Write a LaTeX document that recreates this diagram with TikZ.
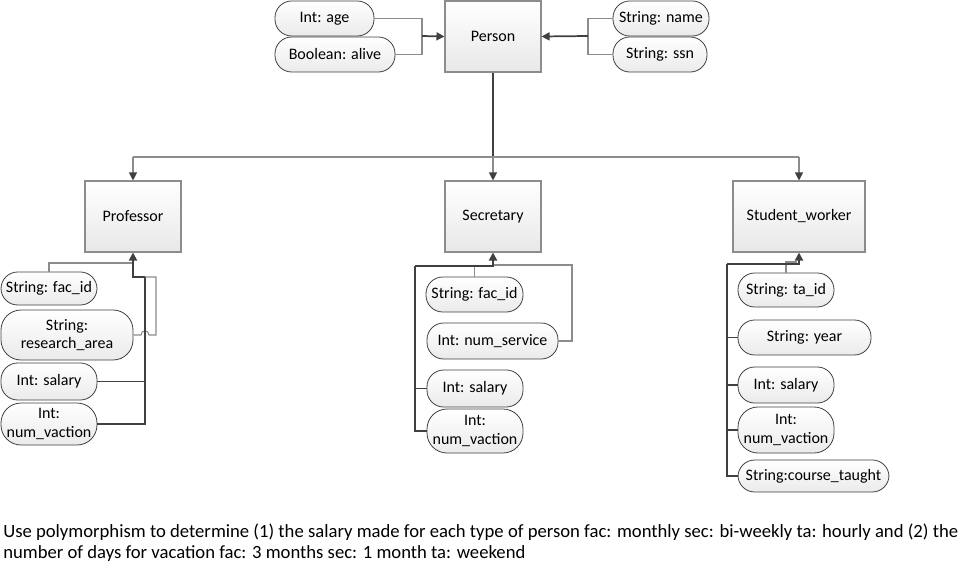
\documentclass[tikz,border=0pt]{standalone}
\usepackage{fontspec}
\setmainfont{Carlito}
\usetikzlibrary{arrows.meta,shadings}
\definecolor{lnk}{HTML}{404040}
\definecolor{lgray}{HTML}{8C8C8C}
\begin{document}
\begin{tikzpicture}[x=0.75pt,y=-0.75pt,
  font=\fontsize{12pt}{14pt}\selectfont,
  cls/.style={draw=lgray,line width=0.8pt,top color=white,bottom color=black!9,
    minimum width=72pt,minimum height=53.25pt,inner sep=0pt,align=center},
  pill/.style={draw=lnk,line width=0.6pt,rounded corners=12.5pt,top color=white,bottom color=black!8,
    inner sep=0pt,align=center},
  tip/.style={-{Triangle[width=6pt,length=6pt]},draw=lnk,line width=1.3pt},
  gtip/.style={draw=lgray,line width=0.8pt,-{Triangle[width=6pt,length=6pt,color=lnk]}},
  gline/.style={draw=lgray,line width=0.8pt},
  dline/.style={draw=lnk,line width=0.8pt},
  thick line/.style={draw=lnk,line width=1.5pt},
  captxt/.style={anchor=base west,inner sep=0pt,font=\fontsize{14pt}{16pt}\selectfont}
]
\useasboundingbox (0,0) rectangle (960,564);

% class boxes
\node[cls] (person) at (493,36.5) {Person};
\node[cls] (prof) at (133,216.5) {Professor};
\node[cls] (sec) at (493,216.5) {Secretary};
\node[cls,minimum width=99pt] (stud) at (799,216.5) {Student\_worker};

% person attributes
\node[pill,minimum width=74.25pt,minimum height=26.25pt] (age) at (324.5,18.5) {Int: age};
\node[pill,minimum width=90pt,minimum height=26.25pt] (alive) at (335,54.5) {Boolean: alive};
\node[pill,minimum width=72pt,minimum height=26.25pt] (name) at (661,18.5) {String: name};
\node[pill,minimum width=70.5pt,minimum height=26.25pt] (ssn) at (660,54.5) {String: ssn};

% professor attributes
\node[pill,minimum width=72pt,minimum height=24.75pt] (pfac) at (49,288.5) {String: fac\_id};
\node[pill,minimum width=99pt,minimum height=37.5pt,rounded corners=15pt] (parea) at (67,335) {String:\\research\_area};
\node[pill,minimum width=72pt,minimum height=27.75pt] (psal) at (49,381.5) {Int: salary};
\node[pill,minimum width=72pt,minimum height=31.5pt,rounded corners=15pt] (pvac) at (49,424) {Int:\\num\_vaction};

% secretary attributes
\node[pill,minimum width=72.75pt,minimum height=26.25pt] (sfac) at (474.5,294.5) {String: fac\_id};
\node[pill,minimum width=98.25pt,minimum height=27pt] (sserv) at (492.5,341) {Int: num\_service};
\node[pill,minimum width=72pt,minimum height=27.75pt] (ssal) at (475,388.5) {Int: salary};
\node[pill,minimum width=72pt,minimum height=33pt,rounded corners=15pt] (svac) at (475,431) {Int:\\num\_vaction};

% student attributes
\node[pill,minimum width=72pt,minimum height=25.5pt] (tid) at (786,290) {String: ta\_id};
\node[pill,minimum width=99.75pt,minimum height=26.25pt] (tyear) at (804.5,337.5) {String: year};
\node[pill,minimum width=72pt,minimum height=27pt] (tsal) at (786,385) {Int: salary};
\node[pill,minimum width=72pt,minimum height=34.5pt,rounded corners=15pt] (tvac) at (786,430) {Int:\\num\_vaction};
\node[pill,minimum width=113.25pt,minimum height=24pt] (tcourse) at (813.5,476) {String:course\_taught};

% junction coordinates
\coordinate (jl) at (422,36);
\coordinate (jr) at (588,36);
\coordinate (jm) at (493,157);
\coordinate (jp) at (145,277);
\coordinate (js) at (415,266);
\coordinate (jt) at (727,264);

% top connectors
\draw[gline] (age.east) -| (jl) |- (alive.east);
\draw[tip] (jl) -- (person.west);
\draw[gline] (name.west) -| (jr) |- (ssn.west);
\draw[tip] (jr) -- (person.east);

\draw[thick line] (person.south) -- (jm);
\draw[gline] (prof.north |- jm) -- (stud.north |- jm);
\draw[gtip] (prof.north |- jm) -- (prof.north);
\draw[gtip] (jm) -- (sec.north);
\draw[gtip] (stud.north |- jm) -- (stud.north);

% professor connectors
\draw[gline] (pfac.north) |- (133,263);
\draw[gline] (parea.east) -- (141,335) .. controls (141,329.5) and (149,329.5) .. (149,335) -- (156,335) |- (jp);
\draw[dline] (psal.east) -| (jp);
\draw[dline] (pvac.east) -| (jp);
\draw[tip,line width=1.5pt] (jp) -| (prof.south);

% secretary connectors
\draw[gline] (sfac.north) -- (sfac.north |- js);
\draw[gline] (sserv.east) -| (572,265) -- (493,265);
\draw[dline] (ssal.west) -| (js);
\draw[dline] (svac.west) -| (js);
\draw[tip,line width=1.5pt] (js) -| (sec.south);

% student connectors
\draw[gline] (tid.north) |- (797,262);
\draw[dline] (tyear.west) -| (jt);
\draw[dline] (tsal.west) -| (jt);
\draw[dline] (tvac.west) -| (jt);
\draw[dline] (tcourse.west) -| (jt);
\draw[tip,line width=1.5pt] (jt) -| (stud.south);

% caption
\node[captxt] (cap1) at (3,537) {Use polymorphism to determine (1) the salary made for each type of person fac: monthly sec: bi-weekly ta: hourly and (2) the};
\node[captxt] (cap2) at (3,558) {number of days for vacation fac: 3 months sec: 1 month ta: weekend};
\end{tikzpicture}
\end{document}
